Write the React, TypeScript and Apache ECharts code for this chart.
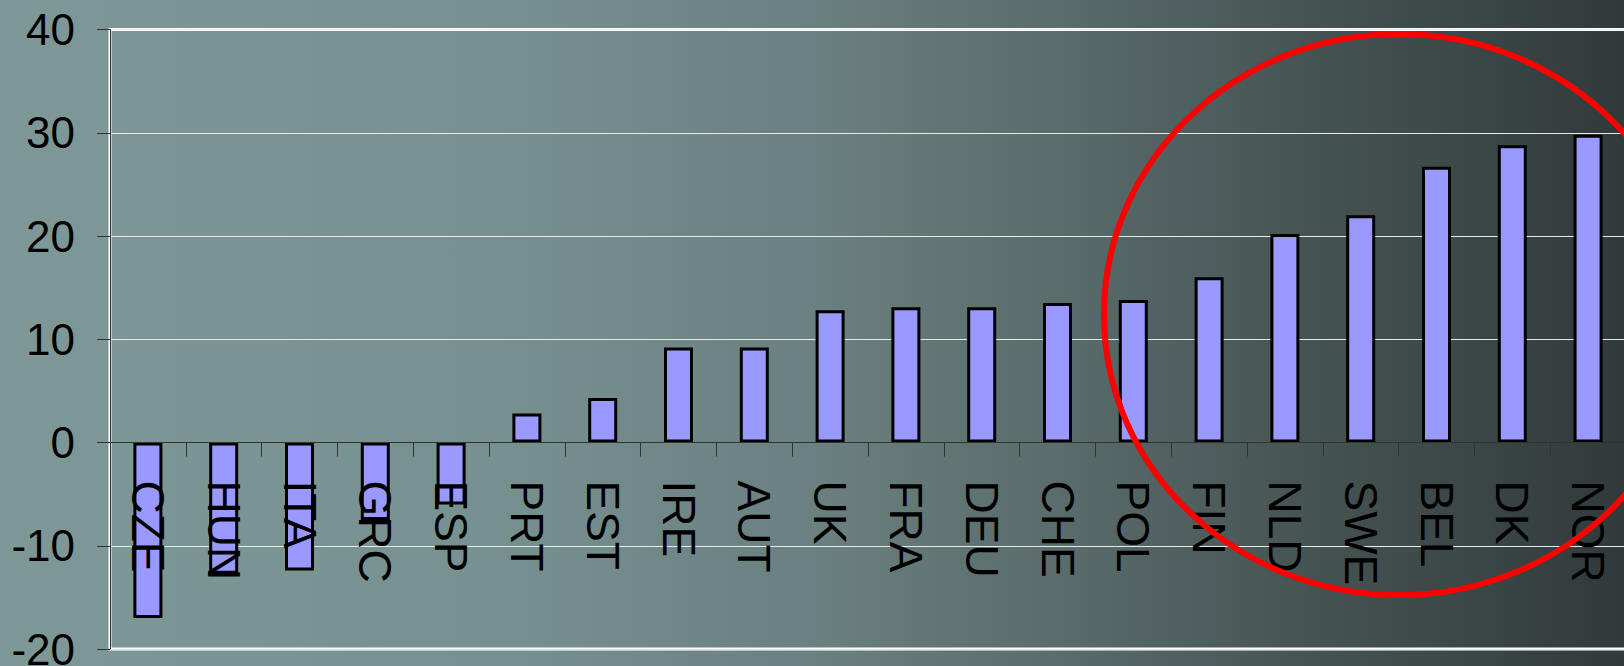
import React, { useEffect, useRef } from "react";
import * as echarts from "echarts";

const categories = ["CZE", "HUN", "ITA", "GRC", "ESP", "PRT", "EST", "IRE", "AUT", "UK", "FRA", "DEU", "CHE", "POL", "FIN", "NLD", "SWE", "BEL", "DK", "NOR"];
const values = [-17.0, -12.7, -12.4, -7.5, -6.0, 2.8, 4.3, 9.2, 9.2, 12.8, 13.1, 13.1, 13.5, 13.8, 16.0, 20.2, 22.0, 26.7, 28.8, 29.8];
const yMin = -20;
const yMax = 40;
const yStep = 10;

const GRID_TOP = 29.5;
const GRID_HEIGHT = 619.5;

export default function App() {
  const ref = useRef<HTMLDivElement>(null);
  useEffect(() => {
    if (!ref.current) return;
    const chart = echarts.init(ref.current, null, { renderer: "svg" });
    const zeroOffset = -GRID_HEIGHT * (0 - yMin) / (yMax - yMin);
    chart.setOption({
      animation: false,
      backgroundColor: {
        type: "linear",
        x: 0,
        y: 0,
        x2: 1,
        y2: 0,
        colorStops: [
          { offset: 0, color: "#7e9898" },
          { offset: 0.3, color: "#779191" },
          { offset: 0.5, color: "#6b8080" },
          { offset: 0.65, color: "#5a6c6c" },
          { offset: 0.8, color: "#475454" },
          { offset: 1, color: "#313a3a" },
        ],
      },
      grid: {
        left: 110,
        top: GRID_TOP,
        width: 1516,
        height: GRID_HEIGHT,
        containLabel: false,
        outerBoundsMode: "none",
        show: true,
        borderColor: "#ffffff",
        borderWidth: 3,
        backgroundColor: "transparent",
      },
      xAxis: {
        type: "category",
        data: categories,
        z: 10,
        offset: zeroOffset,
        axisLine: { onZero: false, lineStyle: { color: "#333333", width: 1 } },
        axisTick: { show: true, length: 14, interval: 0, lineStyle: { color: "#333333", width: 1 } },
        axisLabel: {
          interval: 0,
          rotate: -90,
          margin: 38,
          fontSize: 46,
          color: "#000000",
          fontFamily: "Liberation Sans, Arial, sans-serif",
        },
        splitLine: { show: false },
      },
      yAxis: {
        type: "value",
        min: yMin,
        max: yMax,
        interval: yStep,
        axisLine: { show: true, lineStyle: { color: "#333333", width: 1 } },
        axisTick: { show: true, length: 13, lineStyle: { color: "#333333", width: 1 } },
        axisLabel: {
          margin: 35,
          fontSize: 44,
          color: "#000000",
          fontFamily: "Liberation Sans, Arial, sans-serif",
        },
        splitLine: { show: true, lineStyle: { color: "#e6eaea", width: 1 } },
      },
      series: [
        {
          type: "bar",
          data: values,
          barWidth: 29,
          itemStyle: { color: "#9999ff", borderColor: "#000000", borderWidth: 3 },
        },
      ],
      graphic: [
        {
          type: "ellipse",
          z: 100,
          shape: { cx: 1399, cy: 314.5, rx: 295, ry: 280.5 },
          style: { fill: "none", stroke: "#ff0000", lineWidth: 6 },
        },
      ],
    });
    return () => chart.dispose();
  }, []);
  return <div ref={ref} style={{ position: "fixed", left: 0, top: 0, width: 1624, height: 666 }} />;
}
